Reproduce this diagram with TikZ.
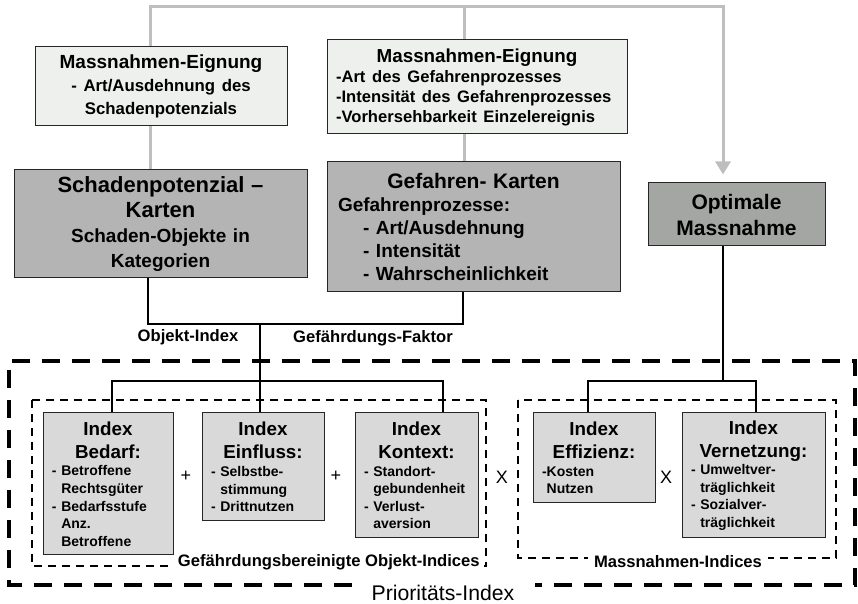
\documentclass[tikz,border=0pt]{standalone}
\usepackage{fontspec}
\setmainfont{Liberation Sans}
\usetikzlibrary{arrows.meta}
\setlength{\parindent}{0pt}

\definecolor{palegray}{HTML}{EEF0EE}
\definecolor{mapgray}{HTML}{B4B4B4}
\definecolor{optgray}{HTML}{A4A6A4}
\definecolor{idxgray}{HTML}{D9D9D9}
\definecolor{linegray}{HTML}{BEBEBE}

\newcommand{\idxhead}[1]{{\fontsize{9.4}{11.5}\selectfont\centering Index\\#1\par}\raggedright}

\begin{document}
\begin{tikzpicture}[x=0.5pt, y=-0.5pt,
        eignung/.style={draw=black!85, line width=0.5pt, fill=palegray, inner xsep=4.5pt, inner ysep=0pt, font=\bfseries},
        karte/.style={draw=black!85, line width=0.5pt, fill=mapgray, inner ysep=0pt, font=\bfseries},
        idxbox/.style={draw=black!85, line width=0.5pt, fill=idxgray, inner xsep=4.5pt, inner ysep=0pt, font=\bfseries\fontsize{7}{8.8}\selectfont},
        grayline/.style={draw=linegray, line width=1.5pt},
        joinline/.style={line width=1pt},
        bigdash/.style={line width=2pt, dash pattern=on 9pt off 6pt},
        smalldash/.style={line width=0.75pt, dash pattern=on 4pt off 3pt},
        lbl/.style={font=\bfseries\fontsize{8.3}{10}\selectfont},
        op/.style={font=\fontsize{9}{10}\selectfont}]
        \useasboundingbox (0,0) rectangle (858,604);

        \node[eignung, text width=117pt, minimum height=39.5pt] (eigA) at (161,86.5)
            {{\fontsize{9.5}{13}\selectfont\centering Massnahmen-Eignung\par}\fontsize{8.4}{11.5}\selectfont\centering - Art/Ausdehnung des\\Schadenpotenzials\par};
        \node[eignung, text width=141pt, minimum height=47pt] (eigB) at (477,87)
            {{\fontsize{9.4}{10.5}\selectfont\centering Massnahmen-Eignung\par}\fontsize{8.3}{10}\selectfont\raggedright -Art des Gefahrenprozesses\\-Intensität des Gefahrenprozesses\\-Vorhersehbarkeit Einzelereignis\par};

        \node[karte, inner xsep=3pt, text width=140.5pt, minimum height=54pt] (sp) at (160.5,224)
            {{\fontsize{11}{12.5}\selectfont\centering Schadenpotenzial –\\Karten\par}\fontsize{9.5}{12.5}\selectfont\centering Schaden-Objekte in\\Kategorien\par};
        \node[karte, inner xsep=5.5pt, text width=135.5pt, minimum height=65pt] (gk) at (473.5,227)
            {{\fontsize{10.5}{12.5}\selectfont\centering Gefahren- Karten\par}\fontsize{9.5}{11.5}\selectfont\raggedright Gefahrenprozesse:\\\hspace*{12.5pt}- Art/Ausdehnung\\\hspace*{12.5pt}- Intensität\\\hspace*{12.5pt}- Wahrscheinlichkeit\par};
        \node[karte, fill=optgray, inner xsep=4.25pt, text width=80pt, minimum height=31.5pt] (opt) at (736.5,214.5)
            {\fontsize{10.5}{13}\selectfont\centering Optimale\\Massnahme\par};

        \node[idxbox, text width=56pt, minimum height=71pt] (bedarf) at (108,484)
            {\idxhead{Bedarf:}- Betroffene\\\phantom{-}\ Rechtsgüter\\- Bedarfsstufe\\\phantom{-}\ Anz.\\\phantom{-}\ Betroffene\par};
        \node[idxbox, text width=52pt, minimum height=54pt] (einfluss) at (263,467)
            {\idxhead{Einfluss:}- Selbstbe-\\\phantom{-}\ stimmung\\- Drittnutzen\par};
        \node[idxbox, text width=52.5pt, minimum height=62.5pt] (kontext) at (416.5,475.5)
            {\idxhead{Kontext:}- Standort-\\\phantom{-}\ gebundenheit\\- Verlust-\\\phantom{-}\ aversion\par};
        \node[idxbox, text width=52pt, minimum height=45pt] (effizienz) at (594,458)
            {\idxhead{Effizienz:}-Kosten\\\phantom{-}Nutzen\par};
        \node[idxbox, text width=62.5pt, minimum height=62.5pt] (vernetzung) at (753.5,475.5)
            {\idxhead{Vernetzung:}- Umweltver-\\\phantom{-}\ träglichkeit\\- Sozialver-\\\phantom{-}\ träglichkeit\par};

        \draw[bigdash] (352,585) -- (9,585) -- (9,361) -- (855,361) -- (855,585) -- (535,585);
        \draw[smalldash] (32,400) rectangle (486,566);
        \draw[smalldash] (518,400) rectangle (836,558);

        \coordinate (topL) at (150,7);
        \coordinate (topM) at (464,7);
        \coordinate (topR) at (723,7);
        \draw[grayline, -{Triangle[width=7.5pt,length=6.5pt]}, shorten >=4pt] (topL |- eigA.north) -- (topL) -- (topR) -- (topR |- opt.north);
        \draw[grayline] (topM) -- (topM |- eigB.north);
        \draw[grayline] (topL |- eigA.south) -- (topL |- sp.north);
        \draw[grayline] (topM |- eigB.south) -- (topM |- gk.north);

        \coordinate (joinL) at (148,324);
        \coordinate (joinM) at (260,324);
        \coordinate (joinR) at (463,324);
        \draw[joinline] (joinL |- sp.south) -- (joinL) -- (joinR) -- (joinR |- gk.south);
        \draw[joinline] (joinM) -- (joinM |- einfluss.north);
        \coordinate (brL) at (112,381);
        \coordinate (brR) at (443,381);
        \draw[joinline] (brL |- bedarf.north) -- (brL) -- (brR) -- (brR |- kontext.north);
        \coordinate (brL2) at (588,381);
        \coordinate (brR2) at (756,381);
        \draw[joinline] (topR |- opt.south) -- (topR |- brL2);
        \draw[joinline] (brL2 |- effizienz.north) -- (brL2) -- (brR2) -- (brR2 |- vernetzung.north);

        \node[lbl] (objidx) at (188,337) {Objekt-Index};
        \node[lbl] (gefaktor) at (373,338) {Gefährdungs-Faktor};
        \node[lbl, fill=white, inner xsep=2pt, inner ysep=0.5pt, anchor=east] (gboidx) at (484,562) {Gefährdungsbereinigte Objekt-Indices};
        \node[lbl, fill=white, inner xsep=3pt, inner ysep=0.5pt] (mnidx) at (678,562) {Massnahmen-Indices};
        \node[font=\fontsize{10.6}{12}\selectfont] (prio) at (443,593) {Prioritäts-Index};

        \node[op] (plusA) at (186,476) {+};
        \node[op] (plusB) at (336,476) {+};
        \node[op] (timesA) at (502,477) {X};
        \node[op] (timesB) at (666,477) {X};
\end{tikzpicture}
\end{document}
